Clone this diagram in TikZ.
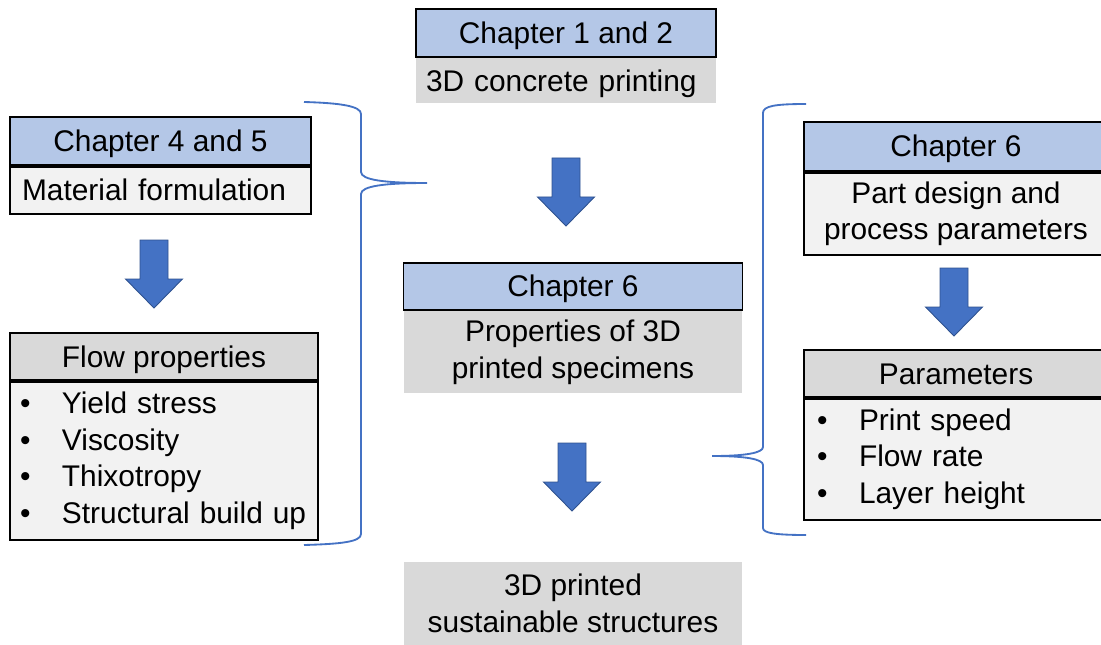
\documentclass[tikz,border=0pt]{standalone}
\usepackage{fontspec}
\setmainfont{Liberation Sans}
\usetikzlibrary{positioning}
\definecolor{hdrblue}{HTML}{B4C7E7}
\definecolor{midgray}{HTML}{D9D9D9}
\definecolor{lightgray}{HTML}{F2F2F2}
\definecolor{arrowblue}{HTML}{4472C4}
\definecolor{arrowedge}{HTML}{2F528F}
\newcommand{\bulitem}[1]{\makebox[0.84cm][l]{\textbullet}#1}
\tikzset{
  oneline/.style={text height=0.44cm,text depth=0.02cm},
  hdr/.style={draw,line width=1pt,fill=hdrblue,inner sep=0pt,minimum height=0.96cm,oneline},
  graybody/.style={fill=midgray,inner sep=0pt,align=center},
  litebody/.style={draw,line width=1pt,fill=lightgray,inner sep=0pt,align=center},
  listbox/.style={draw,line width=1pt,fill=lightgray,inner ysep=0pt,align=left},
  bracket/.style={draw=arrowblue,line width=1.05pt},
  downarrow/.pic={
    \filldraw[fill=arrowblue,draw=arrowedge,line width=0.5pt]
      (-14,0)--(14,0)--(14,39)--(28.5,39)--(0,68)--(-28.5,39)--(-14,39)--cycle;
  }
}
\begin{document}
\begin{tikzpicture}[x=0.02cm,y=-0.02cm,font=\fontsize{17}{20.7}\selectfont]
\path[use as bounding box,clip] (0,0) rectangle (1101,645);
% top
\node[hdr,minimum width=6cm] (c12) at (566,33) {Chapter 1 and 2};
\node[graybody,oneline,align=left,inner xsep=0.2cm,text width=5.6cm,minimum height=0.9cm,below=0pt of c12] (c12t) {3D concrete printing};
% left column
\node[hdr,minimum width=6.02cm] (c45) at (160.5,141) {Chapter 4 and 5};
\node[litebody,oneline,align=left,inner xsep=0.24cm,text width=5.54cm,minimum height=0.94cm,below=0pt of c45] (c45t) {Material formulation};
\node[hdr,fill=midgray,minimum width=6.16cm,minimum height=0.94cm] (flowh) at (164,356.5) {Flow properties};
\node[listbox,inner xsep=0.2cm,text width=5.76cm,minimum height=3.16cm,below=0pt of flowh] (flowl)
  {\bulitem{Yield stress}\\\bulitem{Viscosity}\\\bulitem{Thixotropy}\\\bulitem{Structural build up}};
% centre column
\node[hdr,minimum width=6.78cm,minimum height=0.94cm] (c6) at (573,286.5) {Chapter 6};
\node[graybody,minimum width=6.78cm,minimum height=1.64cm,below=0pt of c6] (c6t) {Properties of 3D\\printed specimens};
\node[graybody,minimum width=6.78cm,minimum height=1.66cm] (out) at (573,603.5) {3D printed\\sustainable structures};
% right column
\node[hdr,minimum width=6.08cm,minimum height=0.98cm] (c6r) at (956,146.5) {Chapter 6};
\node[litebody,minimum width=6.08cm,minimum height=1.64cm,below=0pt of c6r] (c6rt) {Part design and\\process parameters};
\node[hdr,fill=midgray,minimum width=6.08cm,minimum height=0.94cm] (parh) at (956,373.5) {Parameters};
\node[listbox,inner xsep=0.26cm,text width=5.56cm,minimum height=2.42cm,below=0pt of parh] (parl)
  {\bulitem{Print speed}\\\bulitem{Flow rate}\\\bulitem{Layer height}};
% arrows
\pic at (566,158) {downarrow};
\pic at (154,240) {downarrow};
\pic at (572,443) {downarrow};
\pic at (954,268) {downarrow};
% braces
\coordinate (lb) at (427,183);\coordinate (rb) at (712,456);
\draw[bracket] (304,102) .. controls (340,103) and (361,106) .. (361,114) -- (361,172)
  .. controls (361,180) and (385,183) .. (lb) .. controls (385,183) and (361,186) .. (361,194)
  -- (361,534) .. controls (361,542) and (340,544) .. (304,545);
\draw[bracket] (806,104) .. controls (775,104) and (763,106) .. (763,113) -- (763,447)
  .. controls (763,453) and (745,456) .. (rb) .. controls (745,456) and (763,459) .. (763,465)
  -- (763,528) .. controls (763,533) and (775,535) .. (806,535);
\end{tikzpicture}
\end{document}
